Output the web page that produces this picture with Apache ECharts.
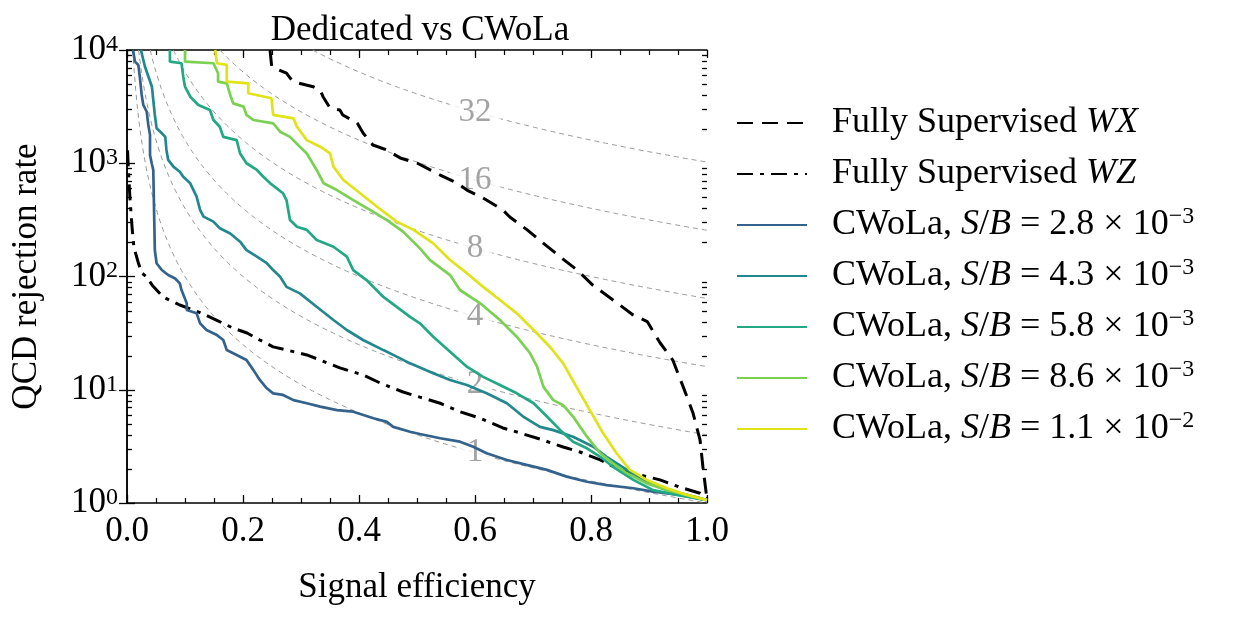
<!DOCTYPE html>
<html>
<head>
<meta charset="utf-8">
<script src="https://cdn.jsdelivr.net/npm/echarts@6/dist/echarts.min.js"></script>
<style>
  html, body { margin: 0; padding: 0; background: #fff; }
  #chart { width: 1238px; height: 617px; }
</style>
</head>
<body>
<div id="chart"></div>
<script>
// signal efficiency vs QCD rejection
const wxCurve = [
  [0.2466, 10000], [0.2495, 7120], [0.275, 6240], [0.286, 5250], [0.321, 4740], [0.333, 4430],
  [0.338, 3870], [0.35, 3075], [0.367, 2950], [0.372, 2670], [0.397, 2265], [0.407, 1850],
  [0.424, 1450], [0.448, 1310], [0.471, 1112], [0.5, 1005], [0.54, 787], [0.569, 668],
  [0.586, 580], [0.614, 493], [0.648, 387], [0.66, 335], [0.69, 258], [0.717, 198],
  [0.747, 149], [0.776, 114], [0.803, 84], [0.838, 62], [0.872, 46], [0.897, 40],
  [0.919, 26], [0.941, 18.3], [0.959, 10.6], [0.976, 6.2], [0.988, 3.6], [0.993, 2.08], [1.0, 1.07]
]
const wzCurve = [
  [0.001, 1300], [0.002, 966], [0.005, 500], [0.009, 260], [0.012, 180], [0.019, 135],
  [0.025, 108], [0.033, 100], [0.045, 82], [0.062, 66], [0.091, 56], [0.126, 48],
  [0.155, 41], [0.183, 35], [0.207, 31.7], [0.229, 27.5], [0.252, 23.9], [0.276, 22.4],
  [0.31, 20.3], [0.333, 18.3], [0.367, 15.6], [0.407, 13.5], [0.436, 11.5], [0.476, 9.55],
  [0.505, 8.6], [0.54, 7.6], [0.574, 6.4], [0.609, 5.6], [0.648, 4.6], [0.678, 4.15],
  [0.717, 3.6], [0.752, 3.12], [0.781, 2.82], [0.816, 2.4], [0.85, 1.96], [0.884, 1.77],
  [0.919, 1.6], [0.953, 1.38], [0.988, 1.22], [1.0, 1.1]
]
const cwola28 = [
  [0.0103, 10000], [0.0138, 7890], [0.0195, 7380], [0.0224, 5620], [0.0253, 4010], [0.0281, 3270],
  [0.034, 2850], [0.0367, 2180], [0.0397, 1780], [0.0397, 1180], [0.0426, 1000], [0.0453, 872],
  [0.048, 171], [0.051, 131], [0.06, 114], [0.071, 103], [0.083, 96], [0.091, 87], [0.094, 76],
  [0.103, 58], [0.103, 50.6], [0.12, 47.3], [0.126, 38.6], [0.137, 33.7], [0.155, 30.4],
  [0.166, 27.5], [0.172, 22.4], [0.189, 20.3], [0.206, 18.3], [0.218, 14.9], [0.229, 12.2],
  [0.241, 10.3], [0.252, 9.3], [0.269, 9.0], [0.287, 8.1], [0.31, 7.6], [0.333, 7.1],
  [0.362, 6.6], [0.39, 6.4], [0.425, 5.6], [0.448, 5.2], [0.459, 4.7], [0.488, 4.26],
  [0.505, 4.07], [0.54, 3.73], [0.574, 3.48], [0.597, 3.14], [0.62, 2.75], [0.655, 2.4],
  [0.689, 2.17], [0.724, 1.96], [0.758, 1.71], [0.793, 1.54], [0.827, 1.44], [0.873, 1.35],
  [0.907, 1.26], [0.953, 1.18], [1.0, 1.06]
]
const cwola43 = [
  [0.024, 10000], [0.031, 7120], [0.037, 5810], [0.043, 4740], [0.045, 3740], [0.048, 2670],
  [0.051, 2040], [0.06, 1840], [0.066, 1710], [0.068, 1310], [0.071, 1070], [0.08, 933],
  [0.091, 842], [0.097, 760], [0.109, 665], [0.12, 507], [0.126, 387], [0.132, 338],
  [0.149, 305], [0.16, 267], [0.178, 240], [0.195, 203], [0.206, 171], [0.224, 150],
  [0.241, 131], [0.252, 114], [0.264, 99.6], [0.275, 81], [0.298, 71], [0.327, 54],
  [0.356, 41.3], [0.379, 33.7], [0.407, 27.5], [0.442, 22.4], [0.465, 19.6], [0.488, 17.1],
  [0.528, 14], [0.557, 12.2], [0.586, 11], [0.62, 9.3], [0.655, 7.6], [0.683, 5.8],
  [0.712, 4.7], [0.735, 4.4], [0.769, 3.85], [0.804, 3.14], [0.827, 2.56], [0.862, 1.96],
  [0.896, 1.54], [0.93, 1.3], [0.965, 1.18], [1.0, 1.06]
]
const cwola58 = [
  [0.074, 10000], [0.074, 7890], [0.094, 7640], [0.097, 5810], [0.1, 4740], [0.109, 3870],
  [0.123, 3270], [0.143, 2950], [0.149, 2410], [0.16, 2100], [0.166, 1710], [0.189, 1600],
  [0.195, 1220], [0.206, 1000], [0.224, 872], [0.235, 760], [0.247, 665], [0.269, 543],
  [0.275, 473], [0.281, 315], [0.293, 275], [0.31, 258], [0.327, 210], [0.356, 183],
  [0.379, 150], [0.39, 114], [0.413, 93], [0.442, 66], [0.465, 54], [0.488, 44],
  [0.505, 38.6], [0.528, 29.4], [0.557, 21.7], [0.586, 16], [0.614, 13], [0.643, 11],
  [0.672, 9.3], [0.701, 7.6], [0.724, 5.8], [0.747, 4.4], [0.769, 3.48], [0.793, 3.04],
  [0.816, 2.56], [0.838, 2.09], [0.873, 1.6], [0.907, 1.3], [0.948, 1.18], [1.0, 1.06]
]
const cwola86 = [
  [0.1, 10000], [0.1, 7890], [0.149, 7640], [0.157, 6230], [0.157, 5250], [0.172, 5080],
  [0.178, 4010], [0.183, 3380], [0.201, 3160], [0.206, 2670], [0.218, 2410], [0.252, 2250],
  [0.264, 1900], [0.281, 1710], [0.298, 1400], [0.31, 1220], [0.327, 872], [0.339, 665],
  [0.362, 580], [0.39, 473], [0.419, 387], [0.448, 315], [0.476, 249], [0.505, 177],
  [0.522, 140], [0.557, 103], [0.574, 76], [0.609, 58], [0.643, 41.3], [0.672, 29.4],
  [0.695, 21], [0.707, 16], [0.718, 10.6], [0.735, 8.1], [0.752, 7.3], [0.769, 5.8],
  [0.793, 3.85], [0.816, 2.75], [0.838, 2.24], [0.862, 1.83], [0.896, 1.49], [0.93, 1.3],
  [0.965, 1.18], [1.0, 1.06]
]
const cwola110 = [
  [0.152, 10000], [0.155, 7640], [0.172, 7380], [0.172, 5250], [0.209, 5080], [0.209, 4150],
  [0.249, 3750], [0.252, 2670], [0.287, 2490], [0.293, 2100], [0.31, 1600], [0.333, 1400],
  [0.35, 1220], [0.356, 933], [0.373, 711], [0.402, 543], [0.431, 413], [0.465, 305],
  [0.494, 258], [0.528, 196], [0.557, 140], [0.586, 107], [0.614, 81], [0.643, 62],
  [0.672, 47.3], [0.701, 33.7], [0.729, 24], [0.752, 17.1], [0.775, 10.6], [0.798, 6.6],
  [0.821, 4.12], [0.844, 2.75], [0.867, 1.96], [0.896, 1.6], [0.931, 1.35], [0.965, 1.18],
  [1.0, 1.06]
]

// iso-lines of significance improvement, eff * sqrt(rejection) = k
const contourLevels = [1, 2, 4, 8, 16, 32]
const contourLabelX = 0.6
const xTicks = [0, 0.2, 0.4, 0.6, 0.8, 1.0]

const font = "'Liberation Serif', 'DejaVu Serif', serif"
const viridis = ['#33638d', '#23888e', '#22a884', '#7ad151', '#dfe318']

const legendText = {
  'Fully Supervised WX': 'Fully Supervised {i|WX}',
  'Fully Supervised WZ': 'Fully Supervised {i|WZ}',
  'cw28': 'CWoLa, {i|S}/{i|B} = 2.8 × 10{sup|−3}',
  'cw43': 'CWoLa, {i|S}/{i|B} = 4.3 × 10{sup|−3}',
  'cw58': 'CWoLa, {i|S}/{i|B} = 5.8 × 10{sup|−3}',
  'cw86': 'CWoLa, {i|S}/{i|B} = 8.6 × 10{sup|−3}',
  'cw110': 'CWoLa, {i|S}/{i|B} = 1.1 × 10{sup|−2}'
}

const rich = {
  i: { fontFamily: font, fontSize: 36, fontStyle: 'italic', color: '#000', lineHeight: 40 },
  sup: { fontFamily: font, fontSize: 24, color: '#000', verticalAlign: 'top', lineHeight: 24 }
}

const contourSeries = contourLevels.map(k => {
  const pts = []
  for (let i = 0; i <= 400; i++) {
    const x = k / 100 + (1 - k / 100) * i / 400
    pts.push([x, (k / x) * (k / x)])
  }
  return {
    type: 'line', data: pts, symbol: 'none', silent: true, z: 1,
    lineStyle: { color: '#999', width: 1, type: [5, 4] }
  }
})

const labelSeries = {
  type: 'scatter', z: 2, silent: true, symbolSize: 0,
  data: contourLevels.map(k => [contourLabelX, (k / contourLabelX) ** 2, k]),
  label: {
    show: true, position: 'inside', formatter: p => p.value[2],
    fontFamily: font, fontSize: 33, color: '#8c8c8c',
    backgroundColor: '#fff', padding: [0, 9]
  }
}

// minor ticks of the log axes (2..9 in each decade), left and right side
const minorVals = []
for (let d = 0; d < 4; d++) for (let m = 2; m <= 9; m++) minorVals.push(m * Math.pow(10, d))
const minorTickSeries = {
  type: 'custom', silent: true, z: 6, clip: false,
  dimensions: ['x', 'y', 'dir'],
  encode: { x: 0, y: 1 },
  data: minorVals.map(v => [0, v, 1]).concat(minorVals.map(v => [1, v, -1])),
  renderItem: (params, api) => {
    const pt = api.coord([api.value(0), api.value(1)])
    const dir = api.value(2)
    const y = Math.round(pt[1]) + 0.5
    return {
      type: 'line',
      shape: { x1: pt[0], y1: y, x2: pt[0] + dir * 5, y2: y },
      style: { stroke: '#000', lineWidth: 1.3 }
    }
  }
}

const mk = (name, data, color, width, type) => ({
  name, type: 'line', data, symbol: 'none', z: 3,
  lineStyle: { color, width, type },
  itemStyle: { color }
})

const chart = echarts.init(document.getElementById('chart'))
chart.setOption({
  animation: false,
  title: {
    text: 'Dedicated vs CWoLa', left: 415, top: 8, textAlign: 'center',
    textStyle: { fontFamily: font, fontSize: 35, fontWeight: 'normal', color: '#000' }
  },
  grid: { left: 127, right: 531, top: 50, bottom: 114 },
  legend: {
    orient: 'vertical', left: 731, top: 98, itemWidth: 70, itemHeight: 14, itemGap: 11,
    itemStyle: { opacity: 0 },
    data: ['Fully Supervised WX', 'Fully Supervised WZ', 'cw28', 'cw43', 'cw58', 'cw86', 'cw110'],
    formatter: n => legendText[n],
    textStyle: { fontFamily: font, fontSize: 36, color: '#000', lineHeight: 40, padding: [0, 0, 0, 20], rich }
  },
  xAxis: [{
    type: 'value', min: 0, max: 1, interval: 0.2,
    name: 'Signal efficiency', nameLocation: 'middle', nameGap: 67,
    nameTextStyle: { fontFamily: font, fontSize: 35, color: '#000' },
    axisLine: { lineStyle: { color: '#000', width: 1.5 } },
    axisTick: { inside: true, length: 8, lineStyle: { color: '#000', width: 1.3 } },
    minorTick: { show: true, splitNumber: 4, length: 5, lineStyle: { color: '#000', width: 1.2 } },
    splitLine: { show: false },
    axisLabel: {
      margin: 11, fontFamily: font, fontSize: 35, color: '#000',
      formatter: v => xTicks.includes(+v.toFixed(1)) ? v.toFixed(1) : ''
    }
  }, {
    type: 'value', min: 0, max: 1, interval: 0.2, position: 'top',
    axisLine: { lineStyle: { color: '#000', width: 1.5 } },
    axisTick: { inside: true, length: 8, lineStyle: { color: '#000', width: 1.3 } },
    minorTick: { show: true, splitNumber: 4, length: 5, lineStyle: { color: '#000', width: 1.2 } },
    splitLine: { show: false }, axisLabel: { show: false }
  }],
  yAxis: [{
    type: 'log', logBase: 10, min: 1, max: 10000,
    name: 'QCD rejection rate', nameLocation: 'middle', nameGap: 83,
    nameTextStyle: { fontFamily: font, fontSize: 35, color: '#000' },
    axisLine: { show: true, lineStyle: { color: '#000', width: 1.5 } },
    axisTick: { inside: true, length: 8, lineStyle: { color: '#000', width: 1.3 } },
    splitLine: { show: false },
    axisLabel: {
      margin: 9, fontFamily: font, fontSize: 35, color: '#000',
      formatter: v => '10{sup|' + Math.round(Math.log10(v)) + '}', rich
    }
  }, {
    type: 'log', logBase: 10, min: 1, max: 10000, position: 'right',
    axisLine: { show: true, lineStyle: { color: '#000', width: 1.5 } },
    axisTick: { inside: true, length: 8, lineStyle: { color: '#000', width: 1.3 } },
    splitLine: { show: false }, axisLabel: { show: false }
  }],
  series: [
    ...contourSeries,
    labelSeries,
    minorTickSeries,
    mk('Fully Supervised WX', wxCurve, '#000', 3, [16, 9]),
    mk('Fully Supervised WZ', wzCurve, '#000', 3, [16, 7, 4, 7]),
    mk('cw28', cwola28, viridis[0], 2.7, 'solid'),
    mk('cw43', cwola43, viridis[1], 2.7, 'solid'),
    mk('cw58', cwola58, viridis[2], 2.7, 'solid'),
    mk('cw86', cwola86, viridis[3], 2.7, 'solid'),
    mk('cw110', cwola110, viridis[4], 2.7, 'solid')
  ]
})
</script>
</body>
</html>
